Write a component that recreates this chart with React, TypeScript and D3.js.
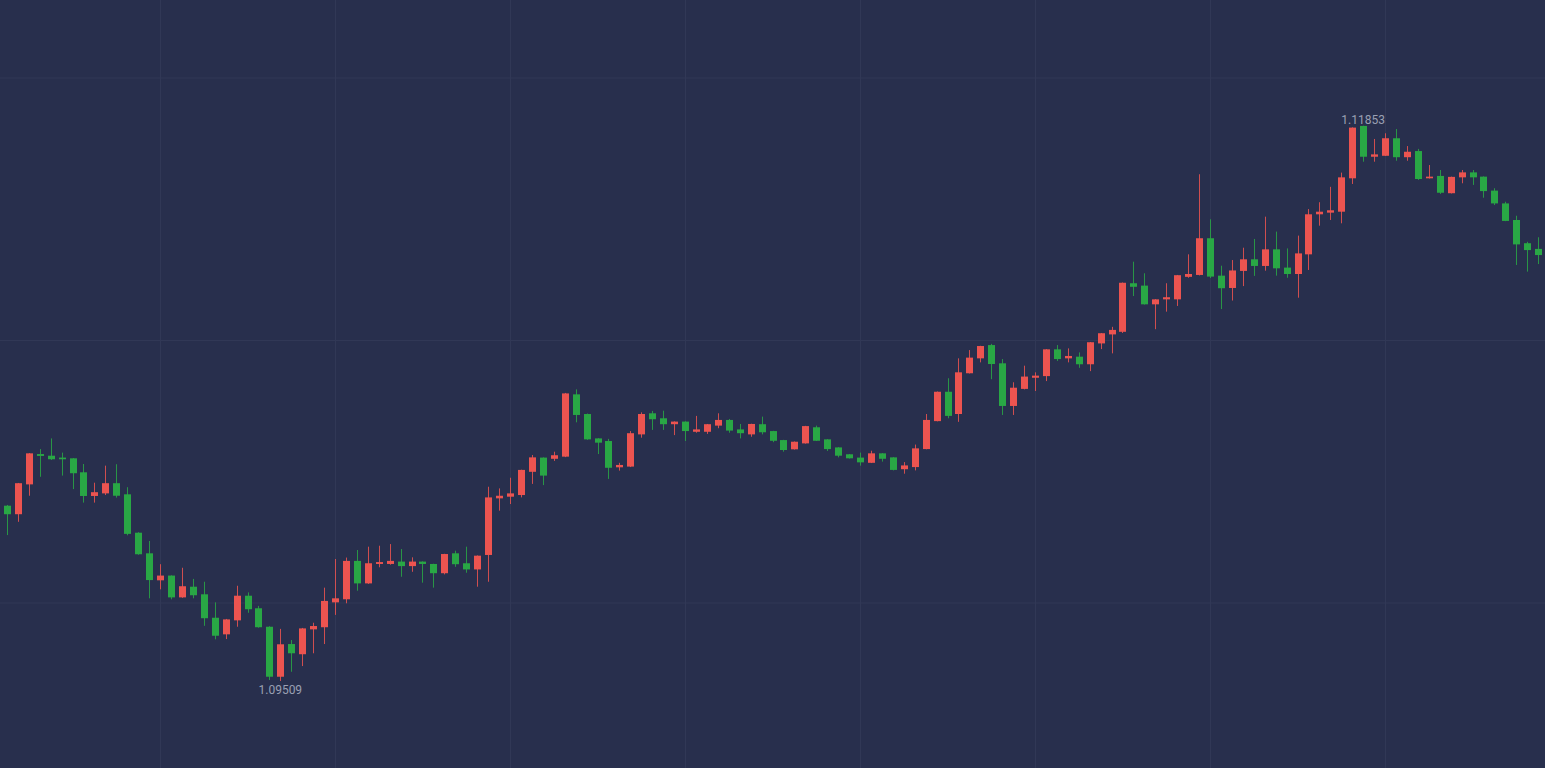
import React from 'react';
import * as d3 from 'd3';

// Candle OHLC values (EUR/USD style quotes), one entry per bar, left to right
const opens = [
  1.10249, 1.10213, 1.10339, 1.10467, 1.10460, 1.10452, 1.10449, 1.10390, 1.10290, 1.10301,
  1.10344, 1.10297, 1.10135, 1.10048, 1.09934, 1.09954, 1.09862, 1.09907, 1.09875, 1.09776,
  1.09706, 1.09765, 1.09869, 1.09816, 1.09738, 1.09527, 1.09665, 1.09622, 1.09727, 1.09736,
  1.09841, 1.09854, 1.10016, 1.09921, 1.10003, 1.10003, 1.10013, 1.09994, 1.10013, 1.10003,
  1.09964, 1.10048, 1.10006, 1.09980, 1.10041, 1.10280, 1.10287, 1.10294, 1.10392, 1.10452,
  1.10447, 1.10456, 1.10719, 1.10636, 1.10533, 1.10522, 1.10411, 1.10414, 1.10550, 1.10639,
  1.10618, 1.10593, 1.10604, 1.10561, 1.10561, 1.10587, 1.10611, 1.10571, 1.10550, 1.10593,
  1.10564, 1.10526, 1.10487, 1.10512, 1.10580, 1.10529, 1.10495, 1.10466, 1.10452, 1.10430,
  1.10470, 1.10453, 1.10403, 1.10412, 1.10488, 1.10606, 1.10730, 1.10636, 1.10808, 1.10871,
  1.10927, 1.10850, 1.10670, 1.10742, 1.10789, 1.10796, 1.10909, 1.10871, 1.10878, 1.10846,
  1.10934, 1.10972, 1.10983, 1.11188, 1.11178, 1.11099, 1.11120, 1.11120, 1.11215, 1.11223,
  1.11378, 1.11220, 1.11168, 1.11240, 1.11289, 1.11261, 1.11331, 1.11254, 1.11227, 1.11310,
  1.11479, 1.11486, 1.11490, 1.11631, 1.11852, 1.11722, 1.11726, 1.11800, 1.11720, 1.11746,
  1.11631, 1.11641, 1.11568, 1.11635, 1.11656, 1.11638, 1.11579, 1.11525, 1.11455, 1.11357,
  1.11333,
];

const highs = [
  1.10252, 1.10345, 1.10471, 1.10488, 1.10533, 1.10473, 1.10450, 1.10425, 1.10346, 1.10418,
  1.10424, 1.10327, 1.10137, 1.10100, 1.10002, 1.09955, 1.09987, 1.09940, 1.09928, 1.09841,
  1.09771, 1.09911, 1.09883, 1.09826, 1.09740, 1.09729, 1.09682, 1.09733, 1.09755, 1.09903,
  1.10024, 1.10030, 1.10062, 1.10076, 1.10080, 1.10087, 1.10066, 1.10031, 1.10014, 1.10004,
  1.10046, 1.10059, 1.10076, 1.10039, 1.10329, 1.10322, 1.10367, 1.10401, 1.10463, 1.10453,
  1.10477, 1.10725, 1.10740, 1.10638, 1.10534, 1.10531, 1.10430, 1.10564, 1.10643, 1.10649,
  1.10650, 1.10605, 1.10605, 1.10628, 1.10594, 1.10639, 1.10615, 1.10594, 1.10595, 1.10625,
  1.10565, 1.10527, 1.10520, 1.10586, 1.10587, 1.10530, 1.10496, 1.10467, 1.10473, 1.10481,
  1.10471, 1.10454, 1.10433, 1.10507, 1.10636, 1.10731, 1.10787, 1.10871, 1.10906, 1.10924,
  1.10932, 1.10868, 1.10770, 1.10840, 1.10812, 1.10910, 1.10927, 1.10913, 1.10896, 1.10940,
  1.10978, 1.11004, 1.11191, 1.11279, 1.11230, 1.11121, 1.11188, 1.11223, 1.11310, 1.11648,
  1.11458, 1.11262, 1.11286, 1.11338, 1.11375, 1.11469, 1.11406, 1.11335, 1.11389, 1.11501,
  1.11530, 1.11595, 1.11655, 1.11846, 1.11853, 1.11797, 1.11821, 1.11839, 1.11767, 1.11755,
  1.11687, 1.11666, 1.11638, 1.11666, 1.11666, 1.11639, 1.11589, 1.11532, 1.11473, 1.11363,
  1.11382,
];

const lows = [
  1.10125, 1.10181, 1.10291, 1.10371, 1.10442, 1.10376, 1.10319, 1.10262, 1.10262, 1.10294,
  1.10283, 1.10124, 1.10042, 1.09858, 1.09896, 1.09854, 1.09860, 1.09858, 1.09742, 1.09685,
  1.09686, 1.09738, 1.09797, 1.09734, 1.09513, 1.09509, 1.09548, 1.09572, 1.09626, 1.09665,
  1.09788, 1.09837, 1.09890, 1.09919, 1.09989, 1.10000, 1.09949, 1.09970, 1.09924, 1.09903,
  1.09959, 1.09991, 1.09966, 1.09907, 1.09928, 1.10228, 1.10256, 1.10284, 1.10341, 1.10336,
  1.10438, 1.10454, 1.10601, 1.10527, 1.10467, 1.10362, 1.10397, 1.10412, 1.10536, 1.10569,
  1.10569, 1.10547, 1.10522, 1.10557, 1.10552, 1.10576, 1.10557, 1.10533, 1.10540, 1.10550,
  1.10517, 1.10477, 1.10486, 1.10511, 1.10522, 1.10480, 1.10453, 1.10448, 1.10418, 1.10429,
  1.10435, 1.10398, 1.10384, 1.10398, 1.10487, 1.10605, 1.10618, 1.10603, 1.10807, 1.10854,
  1.10783, 1.10632, 1.10632, 1.10740, 1.10733, 1.10775, 1.10860, 1.10854, 1.10831, 1.10817,
  1.10910, 1.10892, 1.10978, 1.11134, 1.11098, 1.10994, 1.11068, 1.11092, 1.11211, 1.11221,
  1.11210, 1.11079, 1.11115, 1.11176, 1.11219, 1.11241, 1.11220, 1.11211, 1.11127, 1.11244,
  1.11431, 1.11455, 1.11441, 1.11607, 1.11701, 1.11701, 1.11725, 1.11705, 1.11705, 1.11624,
  1.11630, 1.11565, 1.11567, 1.11610, 1.11603, 1.11549, 1.11518, 1.11450, 1.11265, 1.11237,
  1.11269,
];

const closes = [
  1.10213, 1.10344, 1.10470, 1.10459, 1.10445, 1.10445, 1.10386, 1.10290, 1.10306, 1.10344,
  1.10291, 1.10130, 1.10044, 1.09935, 1.09954, 1.09862, 1.09909, 1.09871, 1.09774, 1.09700,
  1.09769, 1.09869, 1.09812, 1.09736, 1.09527, 1.09664, 1.09626, 1.09731, 1.09741, 1.09847,
  1.09858, 1.10016, 1.09921, 1.10006, 1.10011, 1.10016, 1.09994, 1.10013, 1.10003, 1.09964,
  1.10045, 1.10002, 1.09980, 1.10038, 1.10284, 1.10291, 1.10301, 1.10400, 1.10453, 1.10376,
  1.10462, 1.10723, 1.10632, 1.10529, 1.10515, 1.10409, 1.10421, 1.10555, 1.10636, 1.10614,
  1.10593, 1.10604, 1.10564, 1.10571, 1.10593, 1.10611, 1.10566, 1.10555, 1.10594, 1.10559,
  1.10523, 1.10484, 1.10519, 1.10585, 1.10523, 1.10488, 1.10460, 1.10449, 1.10432, 1.10470,
  1.10447, 1.10400, 1.10419, 1.10491, 1.10611, 1.10730, 1.10628, 1.10812, 1.10874, 1.10923,
  1.10847, 1.10670, 1.10747, 1.10794, 1.10798, 1.10909, 1.10868, 1.10881, 1.10846, 1.10939,
  1.10977, 1.10991, 1.11190, 1.11173, 1.11099, 1.11120, 1.11129, 1.11222, 1.11227, 1.11378,
  1.11216, 1.11167, 1.11242, 1.11289, 1.11261, 1.11331, 1.11251, 1.11227, 1.11314, 1.11479,
  1.11490, 1.11496, 1.11635, 1.11845, 1.11722, 1.11732, 1.11800, 1.11720, 1.11743, 1.11628,
  1.11638, 1.11570, 1.11637, 1.11656, 1.11635, 1.11577, 1.11525, 1.11451, 1.11352, 1.11328,
  1.11307,
];

// Layout
const W = 1545;
const H = 768;
const BG = '#282f4d';
const GRID = '#313856';
const RISE = '#ec5450';
const FALL = '#29a745';
const LABEL = '#9aa0b3';
const GRID_EVERY = 16;
const GRID_FIRST = 14;
const H_GRID_Y = [78, 340.5, 603];

export default function App() {
  const candles = opens.map((o, i) => ({
    i,
    o,
    h: highs[i],
    l: lows[i],
    c: closes[i],
  }));
  const n = candles.length;

  const x = d3.scaleLinear().domain([0, n - 1]).range([6.875, 1538.125]);
  const minLow = d3.min(lows) as number;
  const maxHigh = d3.max(highs) as number;
  const y = d3.scaleLinear().domain([minLow, maxHigh]).range([681, 125.7]);

  const bodyW = 7;
  const iMin = d3.minIndex(lows);
  const iMax = d3.maxIndex(highs);
  const vGrid = d3.range(GRID_FIRST, n, GRID_EVERY);

  return (
    <div style={{ position: 'fixed', left: 0, top: 0, width: W, height: H }}>
      <svg width={W} height={H} style={{ display: 'block', background: BG }}>
        <rect x={0} y={0} width={W} height={H} fill={BG} />
        <g>
          {H_GRID_Y.map((gy, k) => (
            <line key={'h' + k} x1={0} x2={W} y1={gy} y2={gy} stroke={GRID} strokeWidth={1} />
          ))}
          {vGrid.map((gi) => {
            const gx = Math.round(x(gi)) + 0.5;
            return <line key={'v' + gi} x1={gx} x2={gx} y1={0} y2={H} stroke={GRID} strokeWidth={1} />;
          })}
        </g>
        <g>
          {candles.map((d) => {
            const cx = Math.round(x(d.i));
            const col = d.c >= d.o ? RISE : FALL;
            const yTop = y(Math.max(d.o, d.c));
            const yBot = y(Math.min(d.o, d.c));
            const bh = Math.max(1.5, yBot - yTop);
            return (
              <g key={d.i}>
                <line
                  x1={cx + 0.5}
                  x2={cx + 0.5}
                  y1={y(d.h)}
                  y2={y(d.l)}
                  stroke={col}
                  strokeWidth={1}
                  strokeOpacity={0.85}
                />
                <rect x={cx - bodyW / 2 + 0.5} y={yTop} width={bodyW} height={bh} fill={col} />
              </g>
            );
          })}
        </g>
        <text
          x={x(iMax)}
          y={y(maxHigh) - 2}
          textAnchor="middle"
          fill={LABEL}
          fontSize={12}
          fontFamily="Roboto, 'Open Sans', sans-serif"
        >
          {maxHigh.toFixed(5)}
        </text>
        <text
          x={x(iMin)}
          y={y(minLow) + 13}
          textAnchor="middle"
          fill={LABEL}
          fontSize={12}
          fontFamily="Roboto, 'Open Sans', sans-serif"
        >
          {minLow.toFixed(5)}
        </text>
      </svg>
    </div>
  );
}
